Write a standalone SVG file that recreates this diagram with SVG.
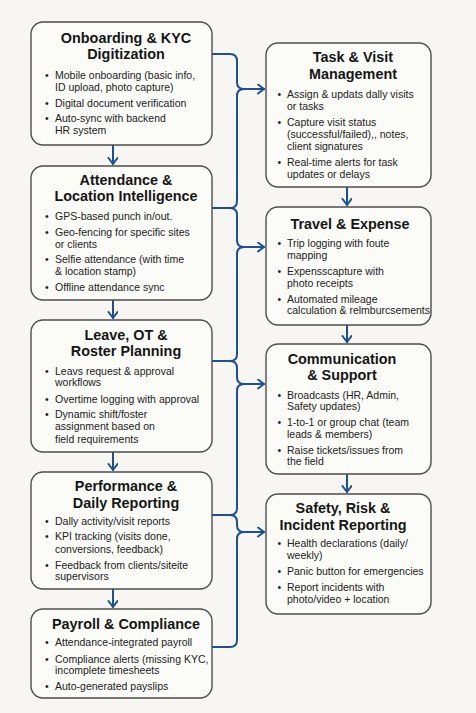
<svg xmlns="http://www.w3.org/2000/svg" width="476" height="713" viewBox="0 0 476 713">
<style>
.bg{fill:#f7f6f2}
.box{fill:#fbfbf8;stroke:#4d4d4d;stroke-width:1.4}
.t{font-family:"Liberation Sans",Arial,sans-serif;font-weight:bold;font-size:14.4px;fill:#161616;text-anchor:middle}
.b{font-family:"Liberation Sans",Arial,sans-serif;font-size:10.5px;fill:#222}
.c{fill:none;stroke:#1f4f8f;stroke-width:2;stroke-linejoin:round;stroke-linecap:round}
.a{marker-end:url(#arr)}
</style>
<defs>
<marker id="arr" markerUnits="userSpaceOnUse" markerWidth="12" markerHeight="12" refX="7" refY="5" orient="auto">
<path d="M1,0.5 L7,5 L1,9.5" fill="none" stroke="#1f4f8f" stroke-width="2" stroke-linecap="round" stroke-linejoin="round"/>
</marker>
</defs>
<rect class="bg" x="0" y="0" width="476" height="713"/>

<g id="connectors">
<path class="c a" d="M212,54 H230 Q237,54 237,61 V82 Q237,89 244,89 H264"/>
<path class="c" d="M244,89 Q237,89 237,96 V201 Q237,208 230,208 H212"/>
<path class="c a" d="M230,208 Q237,208 237,215 V240 Q237,247 244,247 H264"/>
<path class="c" d="M244,247 Q237,247 237,254 V354 Q237,361 230,361 H212"/>
<path class="c a" d="M230,361 Q237,361 237,368 V377 Q237,384 244,384 H264"/>
<path class="c" d="M244,384 Q237,384 237,391 V508 Q237,515 230,515 H212"/>
<path class="c a" d="M230,515 Q237,515 237,522 V525 Q237,532 244,532 H264"/>
<path class="c" d="M244,532 Q237,532 237,539 V640 Q237,647 230,647 H212"/>
<path class="c a" d="M113,145 V164"/>
<path class="c a" d="M113,300 V318"/>
<path class="c a" d="M113,452 V470"/>
<path class="c a" d="M113,589 V607"/>
<path class="c a" d="M347,187 V205"/>
<path class="c a" d="M347,325 V342"/>
<path class="c a" d="M347,474 V492"/>
</g>

<g id="onboarding">
<rect class="box" x="31" y="22" width="181" height="123" rx="12"/>
<text class="t" x="126" y="43">Onboarding &amp; KYC</text>
<text class="t" x="126" y="59">Digitization</text>
<text class="b" x="45" y="79">•</text><text class="b" x="55" y="79">Mobile onboarding (basic info,</text>
<text class="b" x="55" y="90.5">ID upload, photo capture)</text>
<text class="b" x="45" y="106.5">•</text><text class="b" x="55" y="106.5">Digital document verification</text>
<text class="b" x="45" y="122">•</text><text class="b" x="55" y="122">Auto-sync with backend</text>
<text class="b" x="55" y="134">HR system</text>
</g>

<g id="attendance">
<rect class="box" x="31" y="166" width="181" height="134" rx="12"/>
<text class="t" x="126" y="185">Attendance &amp;</text>
<text class="t" x="126" y="201">Location Intelligence</text>
<text class="b" x="45" y="220">•</text><text class="b" x="55" y="220">GPS-based punch in/out.</text>
<text class="b" x="45" y="235.5">•</text><text class="b" x="55" y="235.5">Geo-fencing for specific sites</text>
<text class="b" x="55" y="247.5">or clients</text>
<text class="b" x="45" y="263">•</text><text class="b" x="55" y="263">Selfie attendance (with time</text>
<text class="b" x="55" y="275">&amp; location stamp)</text>
<text class="b" x="45" y="291">•</text><text class="b" x="55" y="291">Offline attendance sync</text>
</g>

<g id="leave">
<rect class="box" x="31" y="320" width="181" height="132" rx="12"/>
<text class="t" x="126" y="340">Leave, OT &amp;</text>
<text class="t" x="126" y="356">Roster Planning</text>
<text class="b" x="45" y="374.5">•</text><text class="b" x="55" y="374.5">Leavs request &amp; approval</text>
<text class="b" x="55" y="386">workflows</text>
<text class="b" x="45" y="402.5">•</text><text class="b" x="55" y="402.5">Overtime logging with approval</text>
<text class="b" x="45" y="418">•</text><text class="b" x="55" y="418">Dynamic shift/foster</text>
<text class="b" x="55" y="430">assignment based on</text>
<text class="b" x="55" y="442.5">field requirements</text>
</g>

<g id="performance">
<rect class="box" x="31" y="472" width="181" height="117" rx="12"/>
<text class="t" x="126" y="491">Performance &amp;</text>
<text class="t" x="126" y="507.5">Daily Reporting</text>
<text class="b" x="45" y="525">•</text><text class="b" x="55" y="525">Dally activity/visit reports</text>
<text class="b" x="45" y="540">•</text><text class="b" x="55" y="540">KPI tracking (visits done,</text>
<text class="b" x="55" y="552.5">conversions, feedback)</text>
<text class="b" x="45" y="568.5">•</text><text class="b" x="55" y="568.5">Feedback from clients/siteite</text>
<text class="b" x="55" y="580">supervisors</text>
</g>

<g id="payroll">
<rect class="box" x="31" y="609" width="181" height="89" rx="12"/>
<text class="t" x="126" y="628.5">Payroll &amp; Compliance</text>
<text class="b" x="45" y="646">•</text><text class="b" x="55" y="646">Attendance-integrated payroll</text>
<text class="b" x="45" y="663">•</text><text class="b" x="55" y="663">Compliance alerts (missing KYC,</text>
<text class="b" x="55" y="674">incomplete timesheets</text>
<text class="b" x="45" y="689.5">•</text><text class="b" x="55" y="689.5">Auto-generated payslips</text>
</g>

<g id="task">
<rect class="box" x="266" y="43" width="165" height="144" rx="12"/>
<text class="t" x="353" y="62">Task &amp; Visit</text>
<text class="t" x="353" y="78.5">Management</text>
<text class="b" x="277.5" y="97.5">•</text><text class="b" x="287" y="97.5">Assign &amp; updats dally visits</text>
<text class="b" x="287" y="109.5">or tasks</text>
<text class="b" x="277.5" y="126">•</text><text class="b" x="287" y="126">Capture visit status</text>
<text class="b" x="287" y="138">(successful/failed),, notes,</text>
<text class="b" x="287" y="150">client signatures</text>
<text class="b" x="277.5" y="166">•</text><text class="b" x="287" y="166">Real-time alerts for task</text>
<text class="b" x="287" y="178">updates or delays</text>
</g>

<g id="travel">
<rect class="box" x="266" y="207" width="165" height="118" rx="12"/>
<text class="t" x="350" y="228.5">Travel &amp; Expense</text>
<text class="b" x="277.5" y="247">•</text><text class="b" x="287" y="247">Trip logging with foute</text>
<text class="b" x="287" y="258.5">mapping</text>
<text class="b" x="277.5" y="274.5">•</text><text class="b" x="287" y="274.5">Expensscapture with</text>
<text class="b" x="287" y="287">photo receipts</text>
<text class="b" x="277.5" y="302.5">•</text><text class="b" x="287" y="302.5">Automated mileage</text>
<text class="b" x="287" y="314">calculation &amp; relmburcsements</text>
</g>

<g id="communication">
<rect class="box" x="266" y="344" width="165" height="130" rx="12"/>
<text class="t" x="342" y="363.5">Communication</text>
<text class="t" x="342" y="380">&amp; Support</text>
<text class="b" x="277.5" y="399">•</text><text class="b" x="287" y="399">Broadcasts (HR, Admin,</text>
<text class="b" x="287" y="410">Safety updates)</text>
<text class="b" x="277.5" y="426">•</text><text class="b" x="287" y="426">1-to-1 or group chat (team</text>
<text class="b" x="287" y="437.5">leads &amp; members)</text>
<text class="b" x="277.5" y="453.5">•</text><text class="b" x="287" y="453.5">Raise tickets/issues from</text>
<text class="b" x="287" y="465">the field</text>
</g>

<g id="safety">
<rect class="box" x="266" y="494" width="165" height="120" rx="12"/>
<text class="t" x="343" y="512.5">Safety, Risk &amp;</text>
<text class="t" x="343" y="529.5">Incident Reporting</text>
<text class="b" x="277.5" y="547">•</text><text class="b" x="287" y="547">Health declarations (daily/</text>
<text class="b" x="287" y="559">weekly)</text>
<text class="b" x="277.5" y="575">•</text><text class="b" x="287" y="575">Panic button for emergencies</text>
<text class="b" x="277.5" y="591">•</text><text class="b" x="287" y="591">Report incidents with</text>
<text class="b" x="287" y="603">photo/video + location</text>
</g>
</svg>
